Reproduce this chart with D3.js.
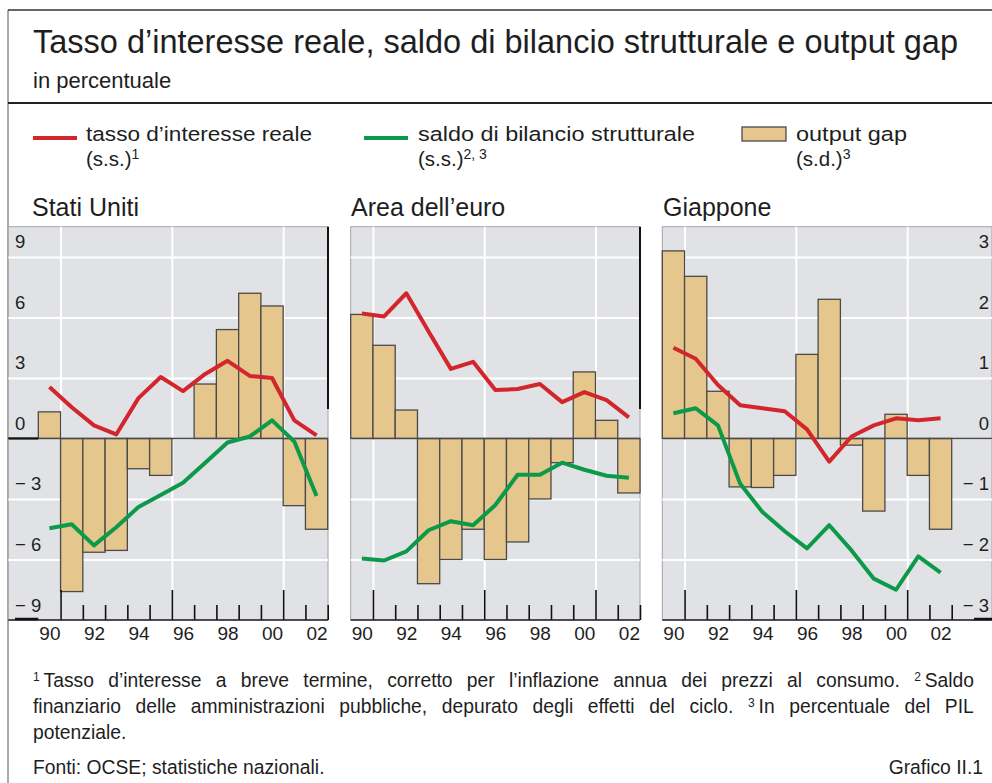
<!DOCTYPE html>
<html><head><meta charset="utf-8">
<script src="https://cdn.jsdelivr.net/npm/d3@7"></script>
<style>
body{margin:0;background:#fff;}
svg{display:block;font-family:"Liberation Sans",Arial,Helvetica,sans-serif;}
</style></head><body>
<svg id="c" width="992" height="783"></svg>
<script>
// ---------------- data ----------------
const years = [1990,1991,1992,1993,1994,1995,1996,1997,1998,1999,2000,2001,2002];
const xLabelYears = [1990,1992,1994,1996,1998,2000,2002];
const leftTicks = [9,6,3,0,-3,-6,-9];
const rightTicks = [3,2,1,0,-1,-2,-3];
const panelNames = ["Stati Uniti","Area dell’euro","Giappone"];

// output gap (s.d.)
const usGap = [0.44,-2.53,-1.88,-1.85,-0.50,-0.61,0.0,0.90,1.80,2.40,2.19,-1.11,-1.50];
const euGap = [2.05,1.54,0.47,-2.40,-2.00,-1.50,-2.00,-1.71,-1.00,-0.40,1.10,0.30,-0.90];
const jpGap = [3.10,2.68,0.78,-0.80,-0.81,-0.61,1.39,2.30,-0.11,-1.20,0.40,-0.61,-1.50];
// real interest rate (s.s.)
const usRate = [2.55,1.55,0.65,0.20,2.00,3.05,2.35,3.20,3.85,3.10,3.00,0.90,0.15];
const euRate = [6.20,6.05,7.20,5.30,3.45,3.80,2.40,2.45,2.70,1.80,2.30,1.90,1.05];
const jpRate = [4.50,3.95,2.65,1.65,1.50,1.35,0.45,-1.15,0.10,0.65,1.00,0.90,1.00];
// structural budget balance (s.s.)
const usBal = [-4.45,-4.25,-5.30,-4.40,-3.40,-2.80,-2.20,-1.20,-0.20,0.10,0.90,-0.15,-2.85];
const euBal = [-5.95,-6.05,-5.60,-4.55,-4.10,-4.30,-3.30,-1.80,-1.80,-1.20,-1.55,-1.85,-1.95];
const jpBal = [1.25,1.50,0.65,-2.25,-3.65,-4.60,-5.45,-4.30,-5.55,-6.95,-7.50,-5.85,-6.65];

const legendLabels = ["tasso d’interesse reale","saldo di bilancio strutturale","output gap"];
const legendNotes = [["(s.s.)","1"],["(s.s.)","2, 3"],["(s.d.)","3"]];

// ---------------- styles ----------------
const RED = "#d3262c", GREEN = "#0c9a4a", BAR = "#e5c68c", BARSTROKE = "#4a4a4a", BG = "#e1e2e6", TXT = "#1e1e1e";

const svg = d3.select("#c");

// outer frame
svg.append("line").attr("x1",8).attr("x2",8).attr("y1",10).attr("y2",783).attr("stroke","#555").attr("stroke-width",1);
svg.append("line").attr("x1",8).attr("x2",992).attr("y1",10).attr("y2",10).attr("stroke","#333").attr("stroke-width",1.5);
svg.append("line").attr("x1",8).attr("x2",992).attr("y1",103).attr("y2",103).attr("stroke","#222").attr("stroke-width",2);

// title
svg.append("text").attr("x",33).attr("y",53).attr("font-size",32.5).attr("fill",TXT)
  .text("Tasso d’interesse reale, saldo di bilancio strutturale e output gap");
svg.append("text").attr("x",33).attr("y",88).attr("font-size",22).attr("fill",TXT).text("in percentuale");

// legend
const legX = [33,364,742];
[0,1].forEach(i=>{
  svg.append("line").attr("x1",legX[i]).attr("x2",legX[i]+44).attr("y1",138).attr("y2",138)
    .attr("stroke", i===0?RED:GREEN).attr("stroke-width",4);
});
svg.append("rect").attr("x",742).attr("y",127).attr("width",44).attr("height",14)
  .attr("fill",BAR).attr("stroke",BARSTROKE).attr("stroke-width",1.3);
const legTextX = [86,418,796];
const legTextW = [226,277,111];
legendLabels.forEach((t,i)=>{
  svg.append("text").attr("x",legTextX[i]).attr("y",141).attr("font-size",20.5).attr("fill",TXT)
    .attr("textLength",legTextW[i]).attr("lengthAdjust","spacingAndGlyphs").text(t);
  const t2 = svg.append("text").attr("x",legTextX[i]).attr("y",166).attr("font-size",20.5).attr("fill",TXT);
  t2.append("tspan").text(legendNotes[i][0]);
  t2.append("tspan").attr("font-size",14).attr("dy",-7).text(legendNotes[i][1]);
});

// panel titles
const titleX = [32,351,663];
panelNames.forEach((n,i)=>{
  svg.append("text").attr("x",titleX[i]).attr("y",216).attr("font-size",25).attr("fill",TXT).text(n);
});

// ---------------- panels ----------------
const TOP = 226.7, BOT = 620;
const panels = [
  {left:8.3, right:328, x0:38.3, x1:327.7, gap:usGap, rate:usRate, bal:usBal, leftLabels:true},
  {left:350.7, right:640, x0:350.7, x1:640, gap:euGap, rate:euRate, bal:euBal},
  {left:662.3, right:992, x0:662.3, x1:951.7, gap:jpGap, rate:jpRate, bal:jpBal, rightLabels:true}
];
const yL = d3.scaleLinear().domain([-9,10.5]).range([BOT,TOP]);
const yR = d3.scaleLinear().domain([-3,3.5]).range([BOT,TOP]);

panels.forEach((p,pi)=>{
  const g = svg.append("g");
  const x = d3.scaleLinear().domain([1990,2003]).range([p.x0,p.x1]);
  const w = p.right - p.left;
  g.append("rect").attr("x",p.left).attr("y",TOP).attr("width",w).attr("height",BOT-TOP)
    .attr("fill",BG).attr("stroke","#a4a4a8").attr("stroke-width",1);

  // horizontal grid
  const hg = g.append("g").attr("transform",`translate(${p.left},0)`)
    .call(d3.axisLeft(yL).tickValues(leftTicks.filter(v=>v>-9)).tickSize(-w).tickFormat(""));
  hg.select(".domain").remove();
  hg.selectAll("line").attr("stroke","#fff").attr("stroke-width",2);
  // vertical grid
  const vg = g.append("g").attr("transform",`translate(0,${BOT})`)
    .call(d3.axisBottom(x).tickValues([1991,1996,2001]).tickSize(-(BOT-TOP)).tickFormat(""));
  vg.select(".domain").remove();
  vg.selectAll("line").attr("stroke","#fff").attr("stroke-width",2);

  // bars
  g.append("g").selectAll("rect").data(years).join("rect")
    .attr("x",(d)=>x(d)).attr("width",(d)=>x(d+1)-x(d))
    .attr("y",(d,i)=>yR(Math.max(0,p.gap[i])))
    .attr("height",(d,i)=>Math.abs(yR(p.gap[i])-yR(0)))
    .attr("fill",BAR).attr("stroke",BARSTROKE).attr("stroke-width",1.3);

  // zero line
  g.append("line").attr("x1",p.left).attr("x2",p.right).attr("y1",yL(0)).attr("y2",yL(0))
    .attr("stroke","#4a4a4a").attr("stroke-width",1.5);

  // lines
  const line = d3.line().x(d=>x(d[0]+0.5)).y(d=>yL(d[1]));
  g.append("path").datum(years.map((y,i)=>[y,p.rate[i]])).attr("d",line)
    .attr("fill","none").attr("stroke",RED).attr("stroke-width",4).attr("stroke-linejoin","round");
  g.append("path").datum(years.map((y,i)=>[y,p.bal[i]])).attr("d",line)
    .attr("fill","none").attr("stroke",GREEN).attr("stroke-width",4).attr("stroke-linejoin","round");

  // ticks
  const shortT = [1992,1993,1994,1995,1997,1998,1999,2000,2002,2003];
  const tallT = [1991,1996,2001];
  [[shortT,15],[tallT,30]].forEach(([vals,len])=>{
    const tg = g.append("g").attr("transform",`translate(0,${BOT})`)
      .call(d3.axisTop(x).tickValues(vals).tickSize(len).tickFormat(""));
    tg.select(".domain").remove();
    tg.selectAll("line").attr("stroke","#111").attr("stroke-width",1.6);
  });
  // bottom axis line
  g.append("line").attr("x1",p.left).attr("x2",p.right).attr("y1",BOT).attr("y2",BOT)
    .attr("stroke","#222").attr("stroke-width",1.5);

  // x labels
  const xl = g.append("g").attr("transform",`translate(0,${BOT})`)
    .call(d3.axisBottom(x).tickValues(xLabelYears.map(v=>v+0.5)).tickSize(0).tickPadding(7)
      .tickFormat(d=>String(Math.floor(d)).slice(2)));
  xl.select(".domain").remove();
  xl.selectAll("text").attr("font-size",19).attr("fill",TXT).attr("font-family",null);

  // right border (dark upper part)
  if (pi<2) {
    g.append("line").attr("x1",p.right).attr("x2",p.right).attr("y1",TOP).attr("y2",409)
      .attr("stroke","#111").attr("stroke-width",2);
  }

  if (p.leftLabels) {
    g.append("line").attr("x1",p.left).attr("x2",p.x0).attr("y1",yL(0)).attr("y2",yL(0))
      .attr("stroke","#111").attr("stroke-width",2.2);
    g.append("line").attr("x1",15).attr("x2",p.x0).attr("y1",BOT-1).attr("y2",BOT-1)
      .attr("stroke","#111").attr("stroke-width",2.5);
    const la = g.append("g").attr("transform","translate(15,0)")
      .call(d3.axisRight(yL).tickValues(leftTicks).tickSize(0).tickPadding(0)
        .tickFormat(d=>d<0?"\u2212 "+Math.abs(d):String(d)));
    la.select(".domain").remove();
    la.selectAll("text").attr("dy",-9).attr("font-size",18.5).attr("fill",TXT).attr("font-family",null);
  }
  if (p.rightLabels) {
    g.append("line").attr("x1",974).attr("x2",992).attr("y1",BOT-1).attr("y2",BOT-1)
      .attr("stroke","#111").attr("stroke-width",2.5);
    const ra = g.append("g").attr("transform","translate(989,0)")
      .call(d3.axisLeft(yR).tickValues(rightTicks).tickSize(0).tickPadding(0)
        .tickFormat(d=>d<0?"\u2212 "+Math.abs(d):String(d)));
    ra.select(".domain").remove();
    ra.selectAll("text").attr("dy",-9).attr("font-size",18.5).attr("fill",TXT).attr("font-family",null);
  }
});

// ---------------- footnotes ----------------
const FS = 19.3;
function noteLine(y, parts, justify){
  const t = svg.append("text").attr("x",33).attr("y",y).attr("font-size",FS).attr("fill",TXT);
  parts.forEach(pt=>{
    if (pt.sup) {
      t.append("tspan").attr("font-size",12).attr("dy",-6).text(pt.sup);
      t.append("tspan").attr("dy",6).text("\u2009");
    } else t.append("tspan").text(pt.t);
  });
  if (justify) {
    const natural = t.node().getComputedTextLength();
    const txt = t.text();
    const spaces = (txt.match(/ /g)||[]).length;
    if (spaces>0) t.attr("word-spacing",(justify-natural)/spaces);
  }
  return t;
}
noteLine(687,[{sup:"1"},{t:"Tasso d’interesse a breve termine, corretto per l’inflazione annua dei prezzi al consumo.  "},{sup:"2"},{t:"Saldo"}],950);
noteLine(713,[{t:"finanziario delle amministrazioni pubbliche, depurato degli effetti del ciclo.  "},{sup:"3"},{t:"In percentuale del PIL"}],950);
noteLine(739,[{t:"potenziale."}]);
svg.append("text").attr("x",33).attr("y",774).attr("font-size",FS).attr("fill",TXT).text("Fonti: OCSE; statistiche nazionali.");
svg.append("text").attr("x",983).attr("y",774).attr("text-anchor","end").attr("font-size",FS).attr("fill",TXT).text("Grafico II.1");
</script>
</body></html>
